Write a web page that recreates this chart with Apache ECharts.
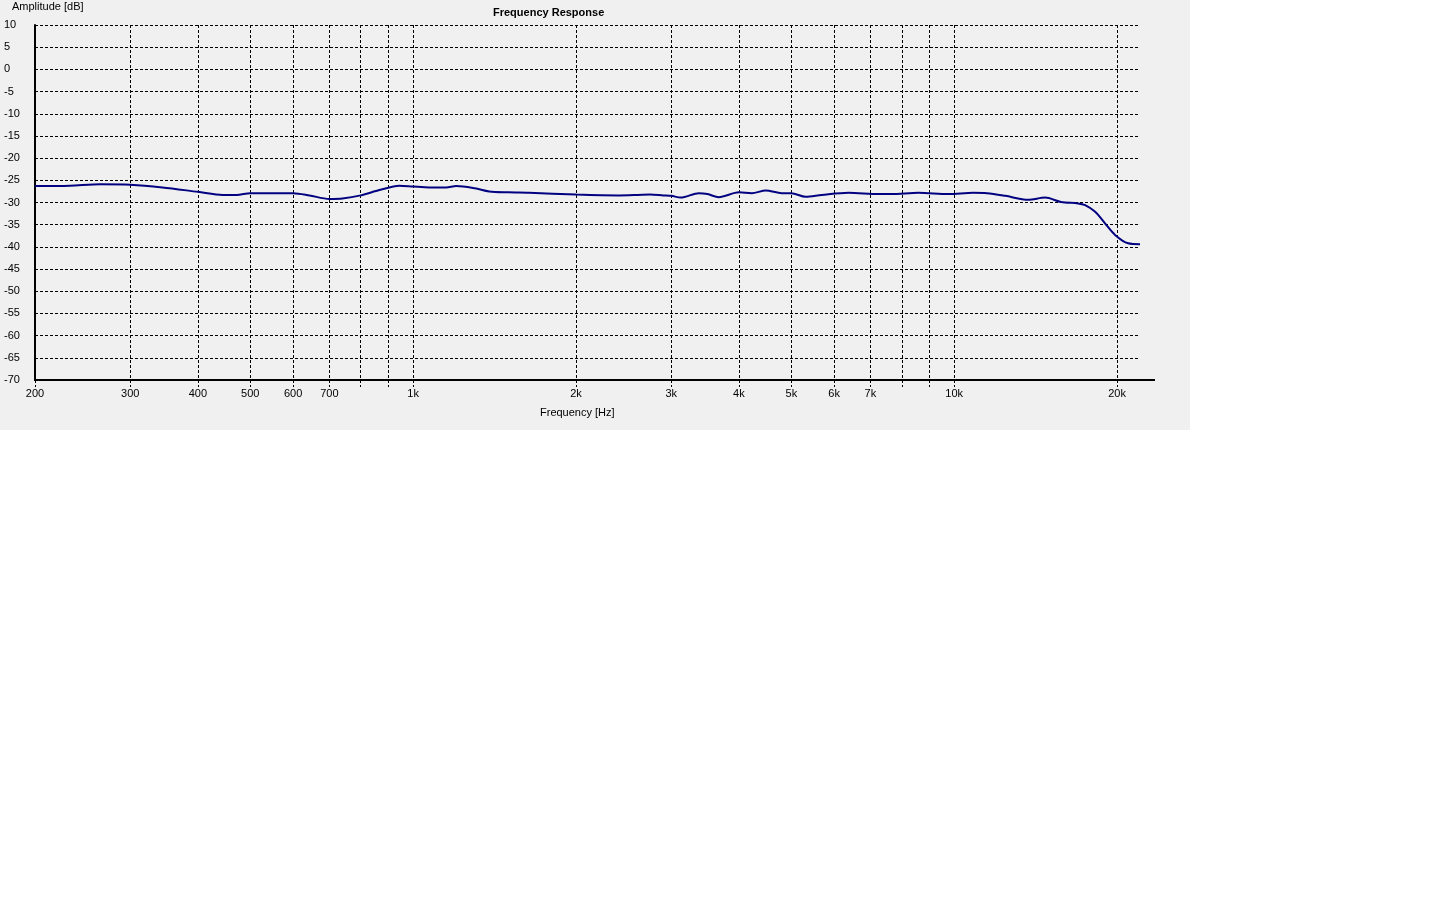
<!DOCTYPE html>
<html>
<head>
<meta charset="utf-8">
<script src="https://cdn.jsdelivr.net/npm/echarts@6/dist/echarts.min.js"></script>
<style>
html,body{margin:0;padding:0;background:#fff;width:1440px;height:900px;overflow:hidden;}
#chart{position:absolute;left:0;top:0;width:1190px;height:430px;background:#f0f0f0;}
</style>
</head>
<body>
<div id="chart"></div>
<script>
// Data
const freqs = [200,232,264,300,344,400,445,472,500,550,600,643,700,740,800,866,943,1000,1071,1151,1201,1300,1382,1500,1638,2000,2400,2600,2740,2900,3000,3124,3372,3500,3671,4000,4224,4484,4798,5000,5314,5688,6378,7244,7656,8590,9750,10840,11500,12430,13700,14730,15770,16940,17460,18220,19000,19830,20960,22050];
const amps = [-26.3,-26.2,-25.9,-26.0,-26.6,-27.6,-28.3,-28.3,-27.9,-27.9,-27.9,-28.4,-29.2,-29.1,-28.4,-27.2,-26.2,-26.4,-26.6,-26.6,-26.3,-26.8,-27.5,-27.7,-27.8,-28.2,-28.4,-28.3,-28.2,-28.4,-28.5,-28.9,-27.9,-28.1,-28.8,-27.7,-27.9,-27.3,-27.9,-27.9,-28.7,-28.3,-27.8,-28.1,-28.1,-27.8,-28.1,-27.8,-27.9,-28.5,-29.4,-28.9,-29.9,-30.2,-30.6,-32.1,-34.7,-37.3,-39.2,-39.4];
const gridFreqs = [200,300,400,500,600,700,800,900,1000,2000,3000,4000,5000,6000,7000,8000,9000,10000,20000];
const labelFreqs = [200,300,400,500,600,700,1000,2000,3000,4000,5000,6000,7000,10000,20000];
const xMin = 200, xMax = 22050;
const yMin = -70, yMax = 10, yStep = 5;

const FONT = '"Liberation Sans", Arial, sans-serif';
const chart = echarts.init(document.getElementById('chart'), null, {renderer:'canvas'});
const dash = [3,2];
chart.setOption({
  backgroundColor: '#f0f0f0',
  animation: false,
  title: {
    text: 'Frequency Response',
    left: 488, top: 2,
    textStyle: {fontFamily: FONT, fontSize: 11, fontWeight: 'bold', color: '#000'}
  },
  grid: {left: 35, top: 25, width: 1105, height: 355, containLabel: false, outerBoundsMode: 'none'},
  xAxis: {
    type: 'log', logBase: 10, min: xMin, max: xMax,
    axisLine: {show: true, onZero: false, lineStyle: {color: '#000', width: 2}},
    axisTick: {show: true, length: 7, customValues: gridFreqs, lineStyle: {color: '#000', width: 1, type: dash}},
    axisLabel: {
      show: true, margin: 8, customValues: labelFreqs,
      fontFamily: FONT, fontSize: 11, color: '#000',
      formatter: v => v >= 1000 ? (Math.round(v/1000) + 'k') : String(Math.round(v))
    },
    splitLine: {show: true, lineStyle: {color: '#000', width: 1, type: dash}},
    minorTick: {show: false}, minorSplitLine: {show: false}
  },
  yAxis: {
    type: 'value', min: yMin, max: yMax, interval: yStep,
    axisLine: {show: true, onZero: false, lineStyle: {color: '#000', width: 2}},
    axisTick: {show: false},
    axisLabel: {show: true, align: 'left', margin: 31, fontFamily: FONT, fontSize: 11, color: '#000'},
    splitLine: {show: true, lineStyle: {color: '#000', width: 1, type: dash}}
  },
  graphic: [
    {type: 'text', left: 12, top: 1, style: {text: 'Amplitude [dB]', font: '11px ' + FONT, fill: '#000'}},
    {type: 'text', left: 540, top: 407, style: {text: 'Frequency [Hz]', font: '11px ' + FONT, fill: '#000'}},
    {type: 'line', shape: {x1: 1140, y1: 380, x2: 1155, y2: 380}, style: {stroke: '#000', lineWidth: 2}}
  ],
  series: [{
    type: 'line',
    data: freqs.map((f, i) => [f, amps[i]]),
    showSymbol: false,
    smooth: 0.3,
    lineStyle: {color: '#000080', width: 2},
    z: 5
  }]
});
</script>
</body>
</html>
